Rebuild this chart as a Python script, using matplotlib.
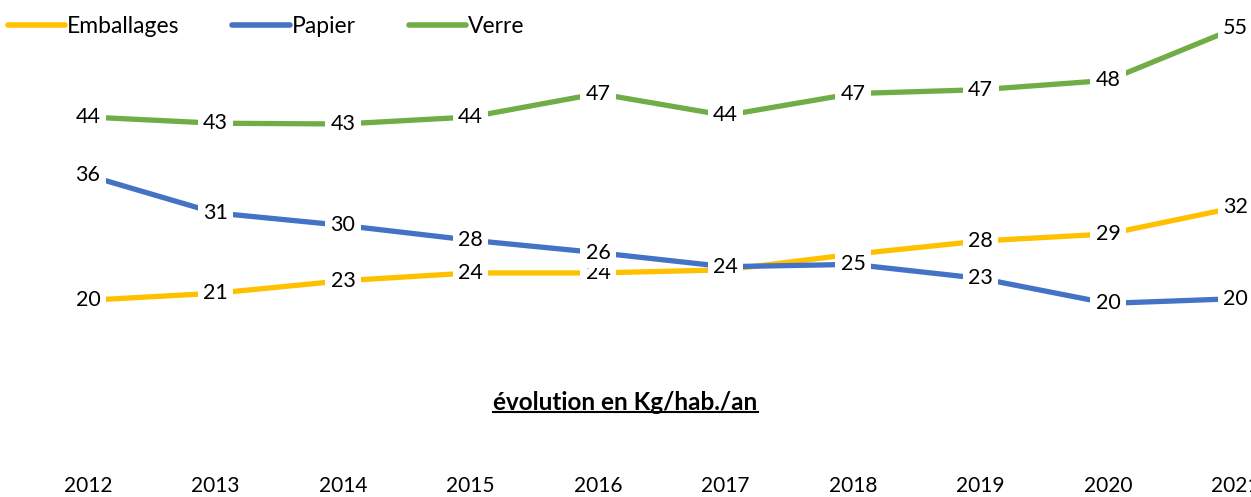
import numpy as np
import matplotlib
matplotlib.use('Agg')
import matplotlib.pyplot as plt
from matplotlib.lines import Line2D

plt.rcParams['font.family'] = ['Lato', 'DejaVu Sans']

# %% data
years = [2012, 2013, 2014, 2015, 2016, 2017, 2018, 2019, 2020, 2021]
emballages = [20.1, 21.0, 22.6, 23.6, 23.6, 24.0, 26.0, 27.7, 28.6, 32.0]
papier = [36.1, 31.3, 29.7, 27.8, 26.2, 24.4, 24.7, 22.9, 19.7, 20.3]
verre = [43.6, 42.8, 42.7, 43.6, 46.6, 43.8, 46.6, 47.1, 48.3, 55.0]

series = [('Emballages', emballages, '#FFC000'),
          ('Papier', papier, '#4472C4'),
          ('Verre', verre, '#70AD47')]
# label hidden behind the Papier label in the original
hidden = {('Emballages', 2018)}

# %% plot
fig = plt.figure(figsize=(12.51, 4.97), dpi=100)
ax = fig.add_axes([0, 40 / 497, 1, 457 / 497])

for i, (name, vals, col) in enumerate(series):
    ax.plot(years, vals, color=col, lw=3.8, solid_capstyle='round', label=name, zorder=2)
    for x, v in zip(years, vals):
        if (name, x) in hidden:
            continue
        ax.text(x, v, '%.0f' % v, ha='center', va='center', fontsize=15.5,
                color='#000000', zorder=3 + i,
                bbox=dict(boxstyle='square,pad=0.25', fc='white', ec='none'))

ax.set_xlim(2011.31, 2021.12)
ax.set_ylim(0, 58.6)
ax.set_xticks(years)
ax.set_xticklabels([str(y) for y in years], fontsize=15)
ax.tick_params(axis='x', length=0, pad=14)
ax.set_yticks([])
for s in ax.spines.values():
    s.set_visible(False)

leg = fig.legend(loc='upper left', bbox_to_anchor=(0.006, 0.968), ncol=3,
                 frameon=False, fontsize=16.5, handlelength=2.5,
                 handletextpad=0.1, columnspacing=2.3, borderpad=0,
                 borderaxespad=0)
for h in leg.get_lines():
    h.set_linewidth(4)
    h.set_solid_capstyle('round')

# title at the bottom, bold and underlined
t = fig.text(0.5, 1 - 402 / 497, 'évolution en Kg/hab./an', ha='center',
             va='center', fontsize=17.5, fontweight='bold')
r = fig.canvas.get_renderer()
bb = t.get_window_extent(r).transformed(fig.transFigure.inverted())
fig.add_artist(Line2D([bb.x0, bb.x1], [bb.y0 + 0.003, bb.y0 + 0.003],
                      transform=fig.transFigure, color='black', lw=1.5))

fig.savefig('out.png', dpi=100)
